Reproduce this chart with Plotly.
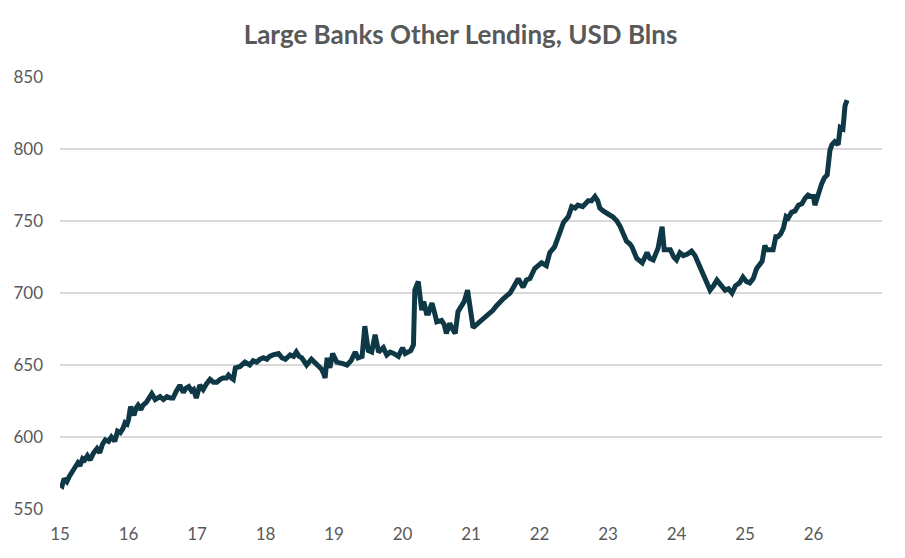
import plotly.graph_objects as go

# decimal year (15 = 2015) and lending level, USD blns
years = [
    15.00, 15.03, 15.06, 15.10, 15.14, 15.17, 15.22, 15.26, 15.29, 15.33, 15.36, 15.40, 15.44, 15.49, 15.54, 15.58,
    15.62, 15.66, 15.71, 15.75, 15.80, 15.84, 15.88, 15.92, 15.95, 15.98, 16.00, 16.03, 16.06, 16.08, 16.11, 16.14,
    16.18, 16.21, 16.26, 16.31, 16.34, 16.39, 16.43, 16.46, 16.51, 16.56, 16.61, 16.65, 16.70, 16.75, 16.80, 16.84,
    16.88, 16.92, 16.95, 16.99, 17.04, 17.09, 17.14, 17.19, 17.24, 17.29, 17.34, 17.38, 17.43, 17.46, 17.50, 17.53,
    17.56, 17.63, 17.70, 17.77, 17.82, 17.87, 17.92, 17.97, 18.02, 18.06, 18.11, 18.19, 18.24, 18.29, 18.36, 18.41,
    18.45, 18.49, 18.53, 18.60, 18.67, 18.75, 18.82, 18.85, 18.87, 18.90, 18.94, 18.98, 19.04, 19.13, 19.19, 19.25,
    19.31, 19.35, 19.41, 19.45, 19.50, 19.55, 19.60, 19.65, 19.72, 19.77, 19.82, 19.87, 19.94, 20.00, 20.04, 20.08,
    20.12, 20.16, 20.18, 20.23, 20.28, 20.31, 20.35, 20.38, 20.43, 20.47, 20.50, 20.57, 20.61, 20.64, 20.69, 20.73,
    20.77, 20.81, 20.84, 20.90, 20.95, 20.99, 21.03, 21.08, 21.13, 21.18, 21.23, 21.28, 21.32, 21.37, 21.42, 21.47,
    21.52, 21.57, 21.62, 21.69, 21.76, 21.81, 21.86, 21.93, 21.98, 22.03, 22.10, 22.15, 22.22, 22.30, 22.35, 22.42,
    22.47, 22.52, 22.56, 22.63, 22.67, 22.71, 22.76, 22.81, 22.85, 22.88, 22.93, 22.98, 23.03, 23.07, 23.13, 23.18,
    23.22, 23.27, 23.32, 23.35, 23.42, 23.47, 23.50, 23.57, 23.61, 23.66, 23.73, 23.79, 23.82, 23.86, 23.91, 23.96,
    24.00, 24.05, 24.10, 24.16, 24.22, 24.27, 24.31, 24.35, 24.39, 24.44, 24.49, 24.54, 24.59, 24.64, 24.67, 24.71,
    24.76, 24.81, 24.86, 24.92, 24.97, 25.02, 25.07, 25.12, 25.17, 25.21, 25.25, 25.29, 25.32, 25.36, 25.41, 25.45,
    25.48, 25.52, 25.56, 25.60, 25.63, 25.68, 25.73, 25.78, 25.83, 25.88, 25.92, 25.96, 26.00, 26.02, 26.07, 26.12,
    26.16, 26.20, 26.24, 26.27, 26.31, 26.36, 26.39, 26.43, 26.46, 26.49,
]
lending = [
    567, 566, 571, 569, 573, 576, 579, 582, 580, 585, 584, 587, 584, 589, 592, 589,
    595, 598, 597, 600, 597, 604, 603, 606, 610, 609, 612, 621, 618, 615, 620, 622,
    619, 622, 624, 628, 630, 626, 627, 628, 626, 628, 627, 627, 632, 636, 631, 634,
    635, 632, 633, 627, 636, 633, 637, 640, 638, 638, 640, 641, 641, 643, 641, 640,
    648, 649, 652, 650, 653, 652, 654, 655, 654, 656, 657, 658, 655, 654, 657, 656,
    659, 656, 655, 650, 654, 650, 647, 644, 641, 655, 648, 658, 652, 651, 650, 653,
    659, 655, 656, 677, 660, 659, 671, 659, 662, 657, 659, 658, 656, 662, 658, 659,
    660, 664, 702, 708, 688, 694, 686, 686, 693, 686, 680, 681, 678, 672, 679, 675,
    672, 687, 690, 694, 702, 690, 676, 678, 680, 683, 685, 687, 688, 691, 694, 696,
    698, 700, 704, 710, 704, 709, 710, 717, 719, 721, 719, 728, 732, 742, 749, 753,
    760, 759, 761, 760, 762, 764, 764, 767, 764, 759, 757, 755, 754, 753, 750, 746,
    742, 736, 734, 732, 724, 722, 721, 728, 724, 723, 731, 746, 730, 730, 730, 725,
    723, 728, 726, 727, 729, 726, 722, 718, 714, 707, 702, 705, 709, 706, 704, 702,
    703, 700, 705, 707, 711, 708, 707, 710, 717, 719, 722, 733, 730, 730, 730, 739,
    739, 741, 745, 753, 752, 756, 757, 761, 762, 766, 768, 767, 767, 761, 770, 776,
    780, 782, 799, 803, 805, 803, 815, 814, 830, 834,
]

x_ticks = [15, 16, 17, 18, 19, 20, 21, 22, 23, 24, 25, 26]
x_tick_labels = ["15", "16", "17", "18", "19", "20", "21", "22", "23", "24", "25", "26"]
y_ticks = [550, 600, 650, 700, 750, 800, 850]

fig = go.Figure()
fig.add_trace(go.Scatter(
    x=years, y=lending, mode="lines",
    line=dict(color="#0f3846", width=5, shape="linear"),
    hoverinfo="skip", showlegend=False,
))

fig.update_layout(
    width=905, height=558,
    margin=dict(l=52, r=31, t=69, b=57),
    paper_bgcolor="white", plot_bgcolor="white",
    title=dict(
        text="<b>Large Banks Other Lending, USD Blns</b>",
        x=0.5, xanchor="center", y=0.952, yanchor="middle",
        font=dict(family="Lato", size=26, color="#595959"),
    ),
    font=dict(family="Lato", color="#595959"),
    xaxis=dict(
        range=[15, 27], tickvals=x_ticks, ticktext=x_tick_labels,
        showgrid=False, zeroline=False, showline=False, ticks="",
        tickfont=dict(family="Lato", size=17, color="#595959"),
        ticklabelstandoff=13, automargin=False,
    ),
    yaxis=dict(
        range=[550, 850], tickvals=y_ticks,
        showgrid=True, gridcolor="#d9d9d9", gridwidth=1.5,
        zeroline=False, showline=False, ticks="",
        tickfont=dict(family="Lato", size=17, color="#595959"),
        ticklabelstandoff=16, automargin=False,
    ),
)

fig.write_html("out.html")
